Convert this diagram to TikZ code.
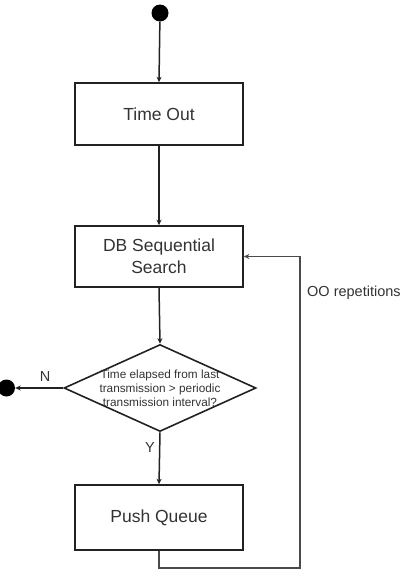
\documentclass[tikz,border=0pt]{standalone}
\usepackage{fontspec}
\setmainfont{Liberation Sans}
\usetikzlibrary{shapes.geometric,arrows.meta}
\definecolor{txt}{HTML}{333333}
\definecolor{ln}{HTML}{222222}
\definecolor{loopc}{HTML}{4A4A4A}
\begin{document}
\begin{tikzpicture}[x=1pt,y=-1pt,
  box/.style={draw=ln,line width=1.6pt,minimum width=168pt,inner sep=0pt,align=center,text=txt,font=\fontsize{17.5}{22}\selectfont},
  dot/.style={circle,fill=black,minimum size=17pt,inner sep=0pt},
  decbox/.style={diamond,draw=ln,line width=1.6pt,minimum width=192pt,minimum height=87pt,inner sep=0pt},
  dtext/.style={align=center,text=txt,inner sep=0pt,font=\fontsize{11.8}{14}\selectfont},
  lbl/.style={text=txt,inner sep=0pt,font=\fontsize{14.5}{16}\selectfont},
  conn/.style={draw=ln,line width=1.5pt,-{Stealth[length=5.5pt,width=5pt]}}]
\useasboundingbox (0,0) rectangle (402,581);
\node[dot] (start) at (160,13) {};
\node[box,minimum height=62pt] (to) at (159,114) {Time Out};
\node[box,minimum height=61pt] (db) at (159,256.5) {DB Sequential\\Search};
\node[decbox] (dec) at (160,388) {};
\node[dtext] (dq) at (160,388) {Time elapsed from last\\transmission > periodic\\transmission interval?};
\node[box,minimum height=65pt] (pq) at (159,517.5) {Push Queue};
\node[dot] (end) at (6.5,388) {};
\coordinate (c1) at (300,568);
\draw[conn] (start) -- (to.north);
\draw[conn] (to.south) -- (db.north);
\draw[conn] (db.south) -- (dec.north);
\draw[conn] (dec.south) -- (pq.north);
\draw[conn] (dec.west) -- (end);
\draw[draw=loopc,line width=1.7pt,-{Stealth[length=5.5pt,width=5pt]}] (pq.south) |- (c1) |- (db.east);
\node[lbl] (n) at (45,377) {N};
\node[lbl] (y) at (150,448) {Y};
\node[lbl,anchor=west] (rep) at (307,293) {OO repetitions};
\end{tikzpicture}
\end{document}
